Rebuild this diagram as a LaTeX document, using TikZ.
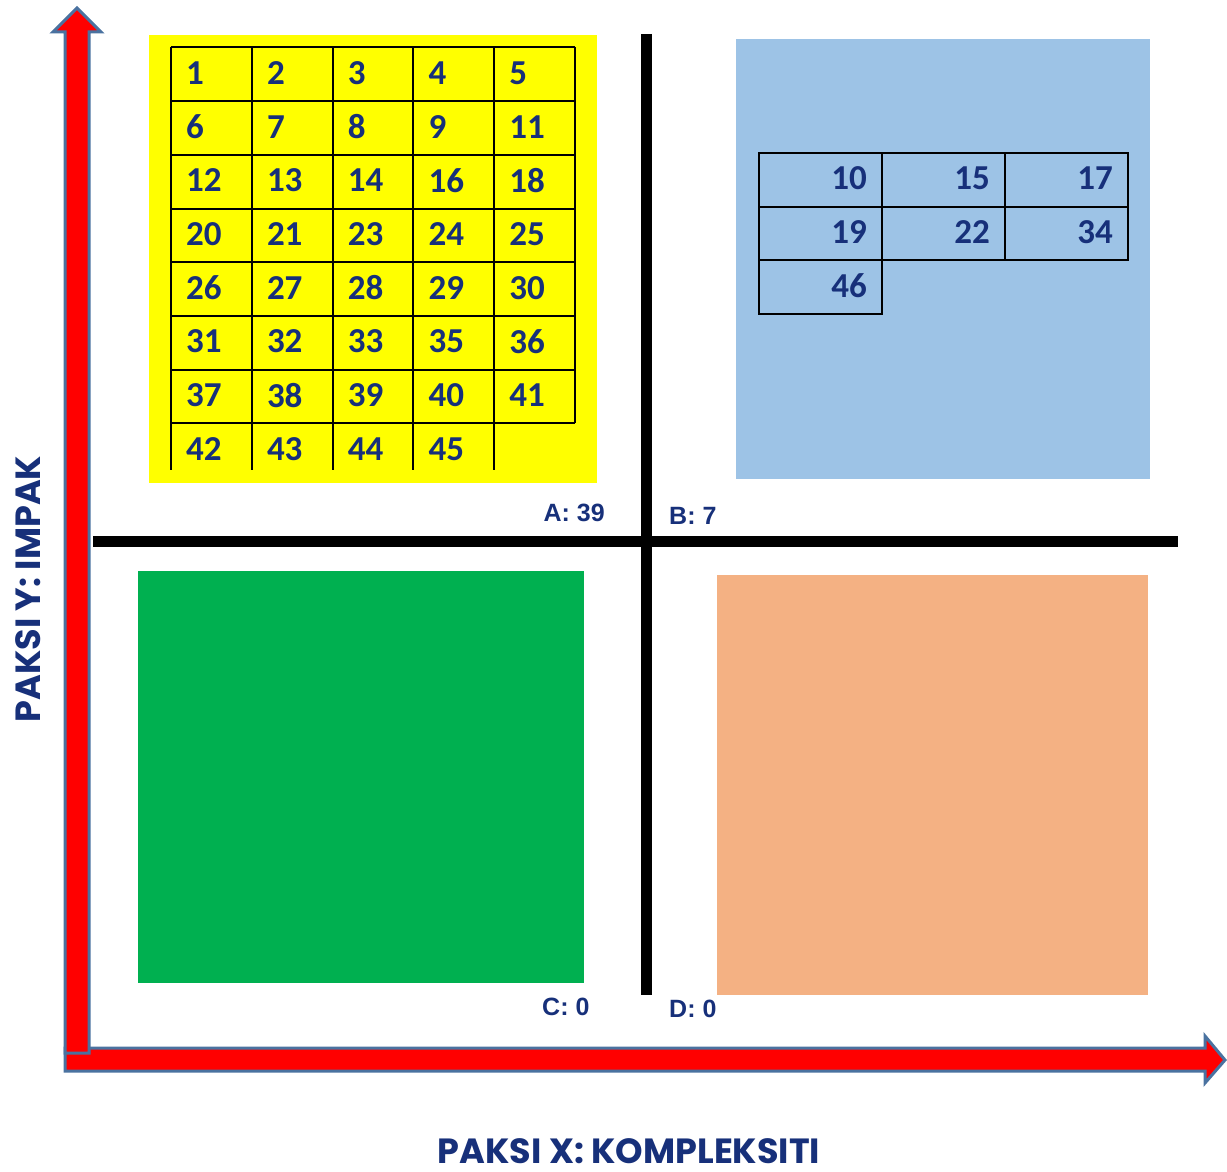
\documentclass[tikz,border=0pt]{standalone}
\usepackage{fontspec}
\setmainfont{Carlito}
\newfontfamily\labelfont{Liberation Sans}
\newfontfamily\axisfont{Poppins}
\usetikzlibrary{positioning}
\definecolor{txtblue}{HTML}{17307A}
\definecolor{arrowedge}{HTML}{4A72A0}
\definecolor{quadA}{HTML}{FFFF00}
\definecolor{quadB}{HTML}{9DC3E6}
\definecolor{quadC}{HTML}{00B050}
\definecolor{quadD}{HTML}{F4B183}

\tikzset{
  num/.style={inner sep=0pt, text=txtblue, font=\fontsize{35}{37}\selectfont\bfseries},
  quadlabel/.style={inner sep=0pt, text=txtblue, font=\labelfont\fontsize{25}{28}\selectfont\bfseries},
  axislabel/.style={inner sep=0pt, text=txtblue, font=\axisfont\fontsize{35}{38}\selectfont\bfseries},
  gridline/.style={line width=2pt},
  axisarrow/.style={fill=red, draw=arrowedge, line width=3pt, line join=miter},
}

\begin{document}
\begin{tikzpicture}[x=1pt, y=-1pt]
    \useasboundingbox (0,0) rectangle (1227,1172);
    % quadrant boxes
    \fill[quadA] (149,35) rectangle (597,483);
    \fill[quadB] (736,39) rectangle (1150,479);
    \fill[quadC] (138,571) rectangle (584,983);
    \fill[quadD] (717,575) rectangle (1148,995);
    % table A
    \foreach \y in {47,101,155,209,262,316,370,423}
        \draw[gridline] (171,\y) -- (575,\y);
    \foreach \x in {171,252,333,413,494}
        \draw[gridline] (\x,47) -- (\x,470);
    \draw[gridline] (575,47) -- (575,423);
    \foreach \n [count=\i from 0] in {1,2,3,4,5,6,7,8,9,11,12,13,14,16,18,20,21,23,24,25,26,27,28,29,30,31,32,33,35,36,37,38,39,40,41,42,43,44,45}
        \pgfmathtruncatemacro{\c}{mod(\i,5)}
        \pgfmathtruncatemacro{\r}{div(\i,5)}
        \node[num, anchor=west] (a\n) at ({186+\c*80.8}, {73+\r*53.7}) {\n};
    % table B
    \draw[gridline] (759,153) rectangle (1128,260);
    \draw[gridline] (759,207) -- (1128,207);
    \draw[gridline] (882,153) -- (882,260);
    \draw[gridline] (1005,153) -- (1005,260);
    \draw[gridline] (759,260) rectangle (882,314);
    \foreach \n [count=\i from 0] in {10,15,17,19,22,34,46}
        \pgfmathtruncatemacro{\c}{mod(\i,3)}
        \pgfmathtruncatemacro{\r}{div(\i,3)}
        \node[num, anchor=east] (b\n) at ({867+\c*123}, {178+\r*53.7}) {\n};
    % cross
    \draw[line width=11pt] (646,34) -- (646,995);
    \draw[line width=11pt] (93,541) -- (1178,541);
    \node[quadlabel, anchor=east] (labA) at (605,513) {A: 39};
    \node[quadlabel, anchor=west] (labB) at (669,516) {B: 7};
    \node[quadlabel, anchor=west] (labC) at (542,1007) {C: 0};
    \node[quadlabel, anchor=west] (labD) at (669,1009) {D: 0};
    % axes
    \draw[axisarrow] (65,1048) -- (1205,1048) -- (1205,1036) -- (1225,1060)
        -- (1205,1083) -- (1205,1071) -- (65,1071) -- cycle;
    \draw[axisarrow] (65,1053) -- (65,32) -- (53,32) -- (77,8) -- (101,32)
        -- (89,32) -- (89,1053) -- cycle;
    \node[axislabel, anchor=base] (xlab) at (629,1163) {PAKSI X: KOMPLEKSITI};
    \node[axislabel, rotate=90] (ylab) at (28,589) {PAKSI Y: IMPAK};
\end{tikzpicture}
\end{document}
